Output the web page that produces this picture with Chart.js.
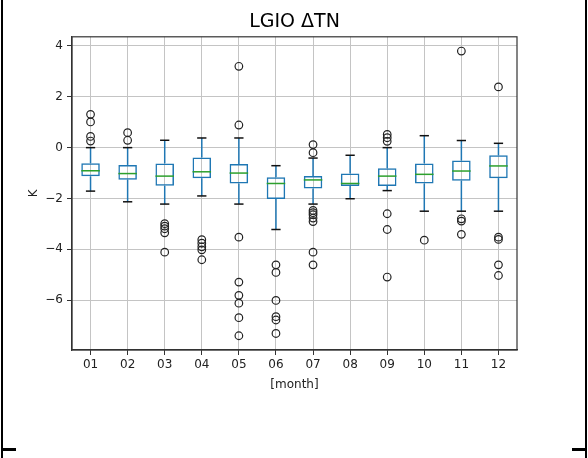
<!DOCTYPE html>
<html>
<head>
<meta charset="utf-8">
<script src="https://cdn.jsdelivr.net/npm/chart.js@4.4.1/dist/chart.umd.min.js"></script>
<style>
    body { margin: 0; background: #fff; }
    #wrap { position: relative; width: 588px; height: 458px; }
    #boxChart { display: block; }
    .edge { position: absolute; background: #000; }
</style>
</head>
<body>
<div id="wrap">
    <canvas id="boxChart" width="588" height="458"></canvas>
    <div class="edge" style="left:1px;top:0;width:2px;height:458px"></div>
    <div class="edge" style="left:585px;top:0;width:2px;height:458px"></div>
    <div class="edge" style="left:1px;top:448px;width:15px;height:3px"></div>
    <div class="edge" style="left:572px;top:448px;width:15px;height:3px"></div>
</div>
<script>
const months = ['01', '02', '03', '04', '05', '06', '07', '08', '09', '10', '11', '12'];
const q1 = [-1.13, -1.26, -1.5, -1.2, -1.41, -2.02, -1.61, -1.51, -1.51, -1.41, -1.3, -1.2];
const q3 = [-0.61, -0.68, -0.62, -0.39, -0.64, -1.16, -1.12, -1.02, -0.81, -0.62, -0.51, -0.3];
const medians = [-0.91, -1.02, -1.12, -0.95, -1.0, -1.41, -1.27, -1.41, -1.12, -1.05, -0.92, -0.72];
const whiskerLow = [-1.71, -2.13, -2.22, -1.9, -2.22, -3.22, -2.22, -2.01, -1.69, -2.5, -2.5, -2.5];
const whiskerHigh = [0.0, 0.0, 0.29, 0.38, 0.38, -0.71, -0.41, -0.3, 0.0, 0.47, 0.28, 0.17];
const outliers = [
    [1.31, 1.01, 0.44, 0.26],
    [0.59, 0.29],
    [-2.99, -3.09, -3.19, -3.35, -4.11],
    [-3.62, -3.76, -3.9, -4.02, -4.41],
    [3.2, 0.89, -3.52, -5.29, -5.81, -6.12, -6.69, -7.4],
    [-4.61, -4.91, -6.01, -6.65, -6.78, -7.31],
    [0.12, -0.2, -2.47, -2.56, -2.64, -2.77, -2.91, -4.11, -4.61],
    [],
    [0.52, 0.39, 0.25, -2.6, -3.22, -5.09],
    [-3.64],
    [3.8, -2.8, -2.89, -3.41],
    [2.39, -3.52, -3.61, -4.61, -5.03]
];
const yTicks = [-6, -4, -2, 0, 2, 4];
const yMin = -7.96;
const yMax = 4.36;

const boxColor = '#1f77b4';
const medianColor = '#2ca02c';
const gridColor = '#c4c4c4';
const axisColor = '#333';

Chart.defaults.font.family = 'DejaVu Sans';
Chart.defaults.color = '#222';

function getFlierPoints() {
    let points = [];
    outliers.forEach((list, i) => {
        list.forEach(v => points.push({ x: months[i], y: v }));
    });
    return points;
}

function strokeLine(ctx, x1, y1, x2, y2) {
    ctx.beginPath();
    ctx.moveTo(x1, y1);
    ctx.lineTo(x2, y2);
    ctx.stroke();
}

// whiskers, caps and medians on top of the box outlines
const boxPartsPlugin = {
    id: 'boxParts',
    afterDatasetsDraw(chart) {
        const { ctx, scales: { y }, chartArea: { left, right, top, bottom } } = chart;
        const bars = chart.getDatasetMeta(0).data;
        ctx.save();
        ctx.lineWidth = 1.5;
        bars.forEach((bar, i) => {
            const x = bar.x;
            const half = bar.width / 2;
            const capHalf = half / 2;
            const yLow = y.getPixelForValue(whiskerLow[i]);
            const yHigh = y.getPixelForValue(whiskerHigh[i]);

            ctx.strokeStyle = boxColor;
            strokeLine(ctx, x, y.getPixelForValue(q1[i]), x, yLow);
            strokeLine(ctx, x, y.getPixelForValue(q3[i]), x, yHigh);

            ctx.strokeStyle = '#111';
            strokeLine(ctx, x - capHalf, yLow, x + capHalf, yLow);
            strokeLine(ctx, x - capHalf, yHigh, x + capHalf, yHigh);

            const yMed = y.getPixelForValue(medians[i]);
            ctx.strokeStyle = medianColor;
            strokeLine(ctx, x - half, yMed, x + half, yMed);
        });

        // closed axes frame
        ctx.strokeStyle = axisColor;
        ctx.lineWidth = 1.2;
        ctx.strokeRect(left, top, right - left, bottom - top);
        ctx.restore();
    }
};

function drawBoxChart() {
    const ctx = document.getElementById('boxChart').getContext('2d');
    new Chart(ctx, {
        type: 'bar',
        data: {
            labels: months,
            datasets: [{
                label: 'box',
                data: months.map((m, i) => [q1[i], q3[i]]),
                backgroundColor: 'rgba(0, 0, 0, 0)',
                borderColor: boxColor,
                borderWidth: 1.5,
                borderSkipped: false,
                barPercentage: 0.5,
                categoryPercentage: 1
            }, {
                type: 'line',
                label: 'fliers',
                data: getFlierPoints(),
                showLine: false,
                pointStyle: 'circle',
                pointRadius: 3.8,
                pointBorderWidth: 1.2,
                pointBorderColor: '#222',
                pointBackgroundColor: 'rgba(0, 0, 0, 0)'
            }]
        },
        options: {
            responsive: false,
            animation: false,
            layout: { padding: { left: 0, right: 71, top: 0, bottom: 0 } },
            plugins: {
                legend: { display: false },
                tooltip: { enabled: false },
                title: {
                    display: true,
                    fullSize: false,
                    text: 'LGIO ΔTN',
                    color: '#000',
                    font: { size: 19, weight: 'normal' },
                    padding: { top: 11, bottom: 3 }
                }
            },
            scales: {
                x: {
                    type: 'category',
                    offset: true,
                    grid: { offset: false, color: gridColor, lineWidth: 1, tickColor: axisColor, tickLength: 5 },
                    border: { color: axisColor, width: 1.2 },
                    ticks: { font: { size: 12 }, padding: 3, maxRotation: 0 },
                    title: { display: true, text: '[month]', font: { size: 12 }, padding: { top: 0, bottom: 66 } },
                    afterFit(scale) { scale.height = 108; }
                },
                y: {
                    min: yMin,
                    max: yMax,
                    afterBuildTicks(scale) { scale.ticks = yTicks.map(v => ({ value: v })); },
                    grid: { color: gridColor, lineWidth: 1, tickColor: axisColor, tickLength: 5 },
                    border: { color: axisColor, width: 1.2 },
                    ticks: { font: { size: 12 }, padding: 4, callback: v => String(v).replace('-', '\u2212') },
                    title: { display: true, text: 'K', font: { size: 12 }, padding: { top: 27, bottom: 0 } },
                    afterFit(scale) { scale.width = 72; }
                }
            }
        },
        plugins: [boxPartsPlugin]
    });
}

drawBoxChart();
</script>
</body>
</html>
